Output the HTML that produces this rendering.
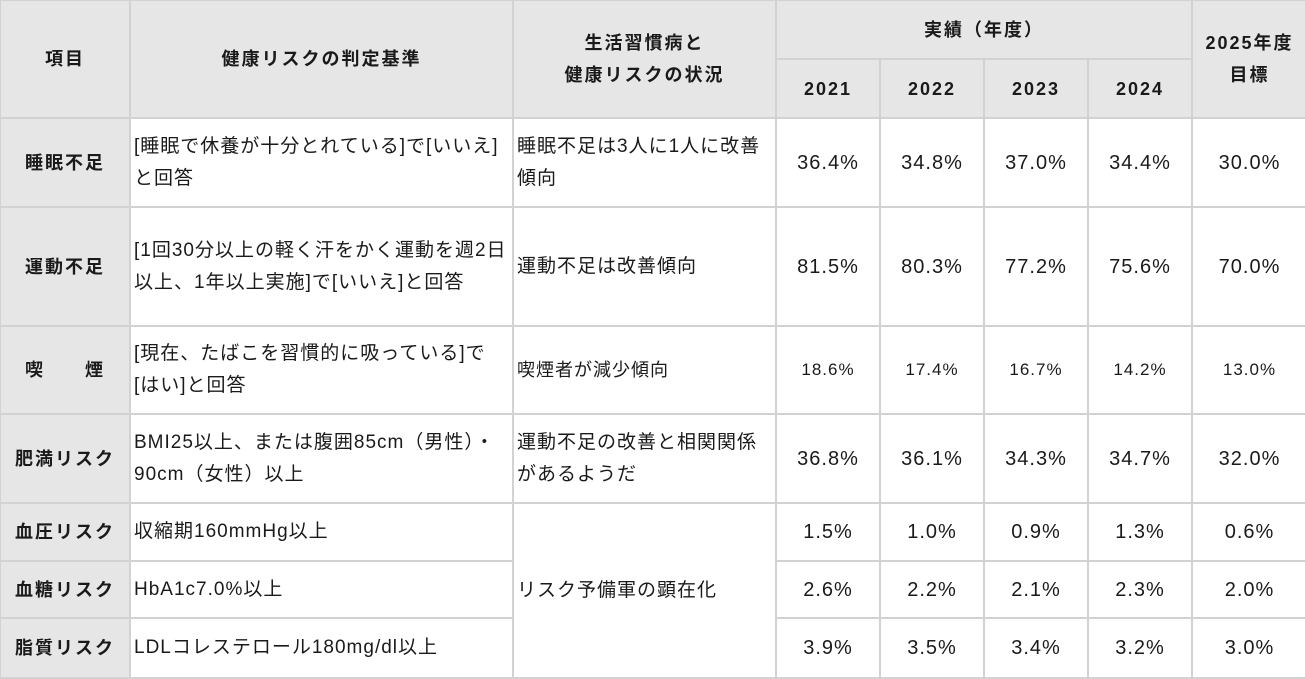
<!DOCTYPE html>
<html><head><meta charset="utf-8"><style>
html,body{margin:0;padding:0;background:#fff;width:1305px;height:679px;overflow:hidden}
table{width:1307px;border-collapse:collapse;table-layout:fixed;font-family:"Liberation Sans","Noto Sans CJK JP",sans-serif;color:#1a1a1a;font-size:19px;letter-spacing:1px;margin:-1px 0 0 -1px}
td,th{border:2px solid #d2d2d2;padding:0 3px;line-height:32px;white-space:nowrap;overflow:hidden}
th{background:#e6e6e6;font-weight:bold;font-size:18px;letter-spacing:2px;text-align:center}
td{text-align:left}
td.n{text-align:center;padding:0;font-size:20px;letter-spacing:1px}
td.s{font-size:18px}
td.n.s{font-size:17px}
</style></head><body>
<table>
<colgroup><col style="width:130px"><col style="width:383px"><col style="width:263px"><col style="width:104px"><col style="width:104px"><col style="width:104px"><col style="width:104px"><col style="width:115px"></colgroup>
<tr style="height:59px"><th rowspan="2">項目</th><th rowspan="2">健康リスクの判定基準</th><th rowspan="2">生活習慣病と<br>健康リスクの状況</th><th colspan="4">実績（年度）</th><th rowspan="2">2025年度<br>目標</th></tr>
<tr style="height:59px"><th>2021</th><th>2022</th><th>2023</th><th>2024</th></tr>
<tr style="height:89px"><th>睡眠不足</th><td>[睡眠で休養が十分とれている]で[いいえ]<br>と回答</td><td>睡眠不足は3人に1人に改善<br>傾向</td><td class="n">36.4%</td><td class="n">34.8%</td><td class="n">37.0%</td><td class="n">34.4%</td><td class="n">30.0%</td></tr>
<tr style="height:119px"><th>運動不足</th><td>[1回30分以上の軽く汗をかく運動を週2日<br>以上、1年以上実施]で[いいえ]と回答</td><td>運動不足は改善傾向</td><td class="n">81.5%</td><td class="n">80.3%</td><td class="n">77.2%</td><td class="n">75.6%</td><td class="n">70.0%</td></tr>
<tr style="height:88px"><th>喫　　煙</th><td>[現在、たばこを習慣的に吸っている]で<br>[はい]と回答</td><td class="s">喫煙者が減少傾向</td><td class="n s">18.6%</td><td class="n s">17.4%</td><td class="n s">16.7%</td><td class="n s">14.2%</td><td class="n s">13.0%</td></tr>
<tr style="height:89px"><th>肥満リスク</th><td>BMI25以上、または腹囲85cm（男性）・<br>90cm（女性）以上</td><td>運動不足の改善と相関関係<br>があるようだ</td><td class="n">36.8%</td><td class="n">36.1%</td><td class="n">34.3%</td><td class="n">34.7%</td><td class="n">32.0%</td></tr>
<tr style="height:58px"><th>血圧リスク</th><td>収縮期160mmHg以上</td><td rowspan="3">リスク予備軍の顕在化</td><td class="n">1.5%</td><td class="n">1.0%</td><td class="n">0.9%</td><td class="n">1.3%</td><td class="n">0.6%</td></tr>
<tr style="height:57px"><th>血糖リスク</th><td>HbA1c7.0%以上</td><td class="n">2.6%</td><td class="n">2.2%</td><td class="n">2.1%</td><td class="n">2.3%</td><td class="n">2.0%</td></tr>
<tr style="height:60px"><th>脂質リスク</th><td>LDLコレステロール180mg/dl以上</td><td class="n">3.9%</td><td class="n">3.5%</td><td class="n">3.4%</td><td class="n">3.2%</td><td class="n">3.0%</td></tr>
</table>
</body></html>
